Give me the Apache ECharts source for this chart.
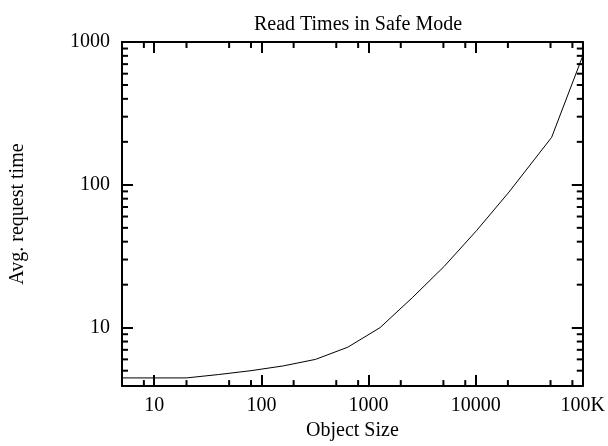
<!DOCTYPE html>
<html>
<head>
<meta charset="utf-8">
<script src="https://cdn.jsdelivr.net/npm/echarts@6/dist/echarts.min.js"></script>
<style>
  html, body { margin: 0; padding: 0; background: #fff; }
  #chart { width: 608px; height: 446px; }
</style>
</head>
<body>
<div id="chart"></div>
<script>
// object size vs avg request time
var sizes = [5, 10, 20, 40, 80, 160, 320, 640, 1280, 2560, 5120, 10240, 20480, 51200, 100000];
var times = [4.45, 4.45, 4.45, 4.7, 5.0, 5.4, 6.0, 7.3, 10.0, 16.2, 27, 48, 89, 215, 800];

var xMin = 5, xMax = 100000;
var yMin = 3.9, yMax = 1000;

// minor tick positions (the plot uses 2,5,8 on x and 2..9 on y)
var xMinorTicks = [8, 20, 50, 80, 200, 500, 800, 2000, 5000, 8000, 20000, 50000, 80000];
var yMinorTicks = [5, 6, 7, 8, 9, 20, 30, 40, 50, 60, 70, 80, 90, 200, 300, 400, 500, 600, 700, 800, 900];

var font = 'Liberation Serif';
var chart = echarts.init(document.getElementById('chart'));

function minorTickRender(params, api) {
  var cs = params.coordSys;
  var isX = params.seriesName === 'xminor';
  var p = api.coord([api.value(0), api.value(1)]);
  var len = 6;
  var style = { stroke: '#000', lineWidth: 2 };
  if (isX) {
    var b = cs.y + cs.height;
    return {
      type: 'group',
      children: [
        { type: 'line', shape: { x1: p[0], y1: b, x2: p[0], y2: b - len }, style: style },
        { type: 'line', shape: { x1: p[0], y1: cs.y, x2: p[0], y2: cs.y + len }, style: style }
      ]
    };
  }
  var r = cs.x + cs.width;
  return {
    type: 'group',
    children: [
      { type: 'line', shape: { x1: cs.x, y1: p[1], x2: cs.x + len, y2: p[1] }, style: style },
      { type: 'line', shape: { x1: r, y1: p[1], x2: r - len, y2: p[1] }, style: style }
    ]
  };
}

var axisLine = { lineStyle: { color: '#000', width: 2 } };
var majorTick = { inside: true, length: 11, lineStyle: { color: '#000', width: 2 } };

chart.setOption({
  animation: false,
  backgroundColor: '#fff',
  title: {
    text: 'Read Times in Safe Mode',
    left: 353, top: 10,
    textAlign: 'center',
    textStyle: { fontFamily: font, fontSize: 20, fontWeight: 'normal', color: '#000' }
  },
  grid: { left: 122, right: 23, top: 42, bottom: 50 },
  xAxis: [{
    type: 'log',
    min: xMin, max: xMax,
    name: 'Object Size',
    nameLocation: 'middle',
    nameGap: 32,
    nameTextStyle: { fontFamily: font, fontSize: 20, color: '#000' },
    axisLine: axisLine,
    axisTick: majorTick,
    splitLine: { show: false },
    axisLabel: {
      showMinLabel: false,
      margin: 10,
      fontFamily: font, fontSize: 20, color: '#000',
      formatter: function (v) { return v >= 100000 ? '100K' : String(Math.round(v)); }
    }
  }, {
    type: 'log',
    position: 'top',
    min: xMin, max: xMax,
    axisLine: axisLine,
    axisTick: majorTick,
    splitLine: { show: false },
    axisLabel: { show: false }
  }],
  yAxis: [{
    type: 'log',
    min: yMin, max: yMax,
    name: 'Avg. request time',
    nameLocation: 'middle',
    nameGap: 94,
    nameTextStyle: { fontFamily: font, fontSize: 20, color: '#000' },
    axisLine: axisLine,
    axisTick: majorTick,
    splitLine: { show: false },
    axisLabel: {
      showMinLabel: false,
      margin: 12,
      fontFamily: font, fontSize: 20, color: '#000',
      formatter: function (v) { return String(Math.round(v)); }
    }
  }, {
    type: 'log',
    position: 'right',
    min: yMin, max: yMax,
    axisLine: axisLine,
    axisTick: majorTick,
    splitLine: { show: false },
    axisLabel: { show: false }
  }],
  series: [{
    name: 'read',
    type: 'line',
    data: sizes.map(function (s, i) { return [s, times[i]]; }),
    showSymbol: false,
    lineStyle: { color: '#000', width: 1 },
    clip: true
  }, {
    name: 'xminor',
    type: 'custom',
    renderItem: minorTickRender,
    data: xMinorTicks.map(function (v) { return [v, yMin]; }),
    silent: true, clip: false
  }, {
    name: 'yminor',
    type: 'custom',
    renderItem: minorTickRender,
    data: yMinorTicks.map(function (v) { return [xMin, v]; }),
    silent: true, clip: false
  }]
});
</script>
</body>
</html>
